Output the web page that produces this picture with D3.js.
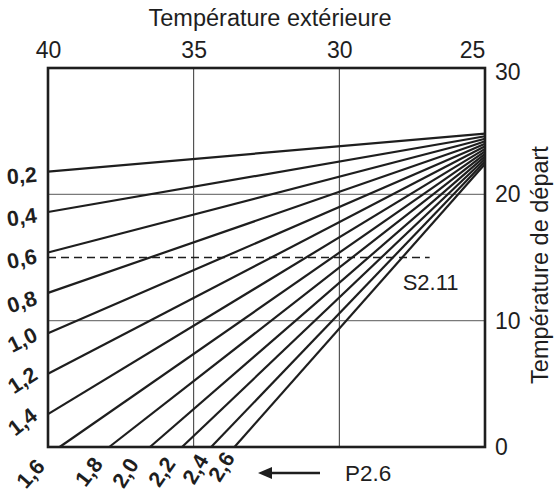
<!DOCTYPE html>
<html><head><meta charset="utf-8">
<script src="https://cdn.jsdelivr.net/npm/d3@7"></script>
<style>body{margin:0;background:#fff}svg{display:block}</style>
</head><body><svg id="c" width="558" height="493"></svg>
<script>
// ---- data ----
const xTicks = [40, 35, 30, 25];
const yTicks = [0, 10, 20, 30];
const xGrid = [35, 30];
const yGrid = [10, 20];
const curveLabels = ["0,2","0,4","0,6","0,8","1,0","1,2","1,4","1,6","1,8","2,0","2,2","2,4","2,6"];
const startT    = [40, 40, 40, 40, 40, 40, 40, 39.6, 37.9, 36.5, 35.4, 34.4, 33.6];
const startFlow = [21.8, 18.6, 15.4, 12.2, 9.0, 5.8, 2.6, 0, 0, 0, 0, 0, 0];
const endT      = [25, 25, 25, 25, 25, 25, 25, 25, 25, 25, 25, 25, 25];
const endFlow   = [24.8, 24.6, 24.4, 24.2, 24.0, 23.8, 23.6, 23.4, 23.2, 23.0, 22.8, 22.6, 22.4];
const labelT    = [40.9, 40.9, 40.9, 40.9, 40.88, 40.88, 40.88, 40.6, 38.6, 37.35, 36.1, 34.95, 34.05];
const labelFlow = [21.5, 18.2, 14.9, 11.5, 8.5, 5.3, 2.0, -2.1, -1.95, -2.05, -1.95, -1.75, -1.55];
const labelAngle= [-5, -8, -12, -18, -26, -33, -38, -48, -52, -58, -55, -60, -58];
const setpoint = {flow: 15, fromT: 40, toT: 26.9, label: "S2.11"};
const pLabel = "P2.6";
const xTitle = "Température extérieure";
const yTitle = "Température de départ";

// ---- chart ----
const svg = d3.select("#c");
const x = d3.scaleLinear().domain([40, 25]).range([48, 485]);
const y = d3.scaleLinear().domain([0, 30]).range([447, 68]);
const ink = "#1e1e1e";
const font = "'Liberation Sans', Arial, sans-serif";

// grid
svg.append("g").selectAll("line").data(xGrid).join("line")
  .attr("x1", d => x(d)).attr("x2", d => x(d)).attr("y1", y(30)).attr("y2", y(0))
  .attr("stroke", "#333").attr("stroke-width", 1);
svg.append("g").selectAll("line").data(yGrid).join("line")
  .attr("x1", x(40)).attr("x2", x(25)).attr("y1", d => y(d)).attr("y2", d => y(d))
  .attr("stroke", "#7a7a7a").attr("stroke-width", 1.3);

// dashed setpoint
svg.append("line")
  .attr("x1", x(setpoint.fromT)).attr("x2", x(setpoint.toT))
  .attr("y1", y(setpoint.flow)).attr("y2", y(setpoint.flow))
  .attr("stroke", ink).attr("stroke-width", 1.3).attr("stroke-dasharray", "8,5");
svg.append("text").attr("x", x(setpoint.toT) - 27).attr("y", y(setpoint.flow) + 32)
  .attr("font-family", font).attr("font-size", 22).attr("fill", ink).text(setpoint.label);

// curves
const curves = curveLabels.map((l, i) => ({l, x1: startT[i], y1: startFlow[i], x2: endT[i], y2: endFlow[i],
  lt: labelT[i], lf: labelFlow[i], a: labelAngle[i]}));
svg.append("g").selectAll("line").data(curves).join("line")
  .attr("x1", d => x(d.x1)).attr("y1", d => y(d.y1)).attr("x2", d => x(d.x2)).attr("y2", d => y(d.y2))
  .attr("stroke", ink).attr("stroke-width", 2.2);

// curve labels
svg.append("g").selectAll("text").data(curves).join("text")
  .attr("transform", d => `translate(${x(d.lt)},${y(d.lf)}) rotate(${d.a})`)
  .attr("text-anchor", "middle").attr("dy", "0.35em")
  .attr("font-family", font).attr("font-weight", "bold").attr("font-size", 21.5).attr("fill", ink)
  .text(d => d.l);

// frame
svg.append("rect").attr("x", x(40)).attr("y", y(30)).attr("width", x(25) - x(40)).attr("height", y(0) - y(30))
  .attr("fill", "none").attr("stroke", ink).attr("stroke-width", 2.6);

// top axis
const topAxis = d3.axisTop(x).tickValues(xTicks).tickSize(0).tickPadding(10).tickFormat(d3.format("d"));
const gt = svg.append("g").attr("transform", `translate(0,${y(30)})`).call(topAxis);
gt.select(".domain").remove();
gt.selectAll("text").attr("font-family", font).attr("font-size", 23).attr("fill", ink);
gt.selectAll(".tick").filter(d => d === 25).select("text").attr("dx", -13);

// right axis
const rightAxis = d3.axisRight(y).tickValues(yTicks).tickSize(0).tickPadding(10).tickFormat(d3.format("d"));
const gr = svg.append("g").attr("transform", `translate(${x(25)},0)`).call(rightAxis);
gr.select(".domain").remove();
gr.selectAll("text").attr("font-family", font).attr("font-size", 23).attr("fill", ink);
gr.selectAll(".tick").filter(d => d === 30).select("text").attr("dy", "0.5em");

// titles
svg.append("text").attr("x", 270).attr("y", 26).attr("text-anchor", "middle")
  .attr("font-family", font).attr("font-size", 23.5).attr("fill", ink).text(xTitle);
svg.append("text").attr("transform", `translate(548,${265}) rotate(-90)`).attr("text-anchor", "middle")
  .attr("font-family", font).attr("font-size", 23.5).attr("fill", ink).text(yTitle);

// arrow + P label
const ay = 473;
svg.append("line").attr("x1", 266).attr("x2", 320).attr("y1", ay).attr("y2", ay)
  .attr("stroke", ink).attr("stroke-width", 2.5);
svg.append("path").attr("d", `M258,${ay} L272,${ay - 6} L272,${ay + 6} Z`).attr("fill", ink);
svg.append("text").attr("x", 345).attr("y", ay + 8)
  .attr("font-family", font).attr("font-size", 22.5).attr("fill", ink).text(pLabel);
</script></body></html>
